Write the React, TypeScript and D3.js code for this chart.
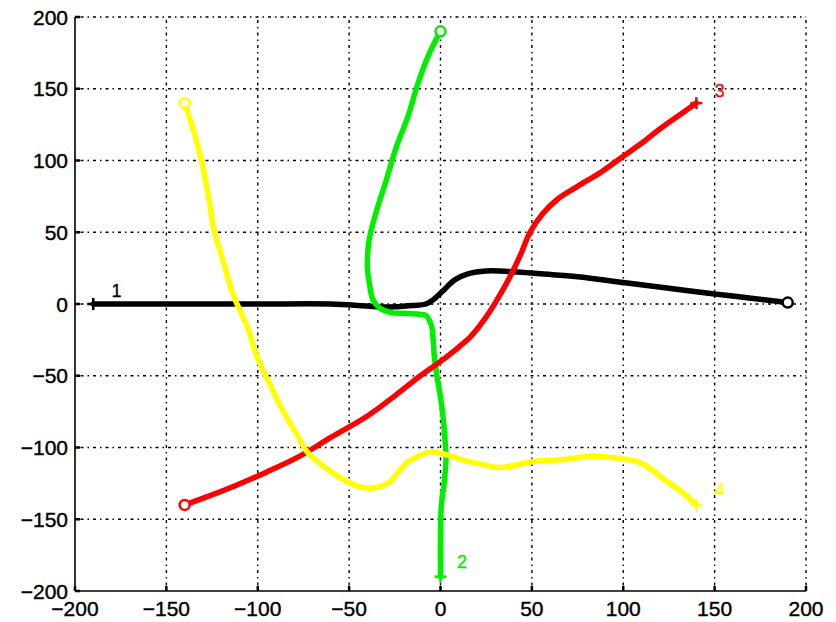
import React from 'react';
import {scaleLinear, line, curveCatmullRom} from 'd3';

// les quatre trajectoires
const path1: [number, number][] = [
  [-190, 0], [-150, 0], [-100, 0], [-60, 0], [-45, -1], [-35, -2], [-25, -2], [-15, -1],
  [-8, 0], [-3, 4], [2, 10], [8, 17], [15, 21], [25, 23], [40, 22.5], [55, 21], [75, 19],
  [100, 15], [125, 11], [150, 7], [170, 4], [190, 1]
];
const path2: [number, number][] = [
  [0, -190], [0, -160], [0.5, -140], [2, -125], [3, -108], [2.5, -95], [1.5, -80], [0, -65],
  [-2, -50], [-3.5, -35], [-4, -25], [-5, -15], [-8, -8], [-13, -7], [-20, -6.5], [-27, -6],
  [-33, -3], [-37, 3], [-39, 15], [-40, 25], [-39, 45], [-35, 65], [-30, 85], [-24, 110],
  [-18, 130], [-12, 155], [-6, 175], [0, 190]
];
const path3: [number, number][] = [
  [-140, -140], [-125, -133], [-113, -127], [-95, -117], [-77, -106], [-60, -93], [-40, -78],
  [-25, -64], [-11, -50], [0, -40], [10, -30], [17, -22], [25, -9], [31, 3], [38, 19], [44, 35],
  [49, 50], [56, 63], [64, 73], [75, 82], [88, 92], [100, 103], [110, 112], [120, 122],
  [130, 131], [140, 140]
];
const path4: [number, number][] = [
  [-140, 140], [-135, 120], [-131, 101], [-127, 75], [-124, 52], [-119, 30], [-113, 5],
  [-106, -15], [-100, -38], [-93, -57], [-86, -75], [-79, -90], [-73, -103], [-67, -110],
  [-62, -115], [-55, -121], [-49, -125], [-42, -128], [-36, -128], [-29, -125], [-23, -117],
  [-18, -110], [-12, -106], [-5, -103], [0, -104], [6, -106], [13, -109], [20, -111],
  [33, -114], [42, -112], [49, -110], [60, -109], [70, -108], [82, -106], [93, -107],
  [100, -108], [108, -110], [114, -114], [122, -122], [132, -131], [140, -140]
];

const colors = ['#000000', '#00ee00', '#ff0000', '#ffff00'];
const labels = ['1', '2', '3', '4'];
const labelPos: [number, number][] = [[-180, 5], [9, -184], [150, 144], [150, -134]];

const ticks = [-200, -150, -100, -50, 0, 50, 100, 150, 200];

export default function App() {
  const left = 75, right = 806, top = 17, bottom = 591;
  const x = scaleLinear().domain([-200, 200]).range([left, right]);
  const y = scaleLinear().domain([-200, 200]).range([bottom, top]);

  const lineGen = line<[number, number]>()
    .x(d => x(d[0]))
    .y(d => y(d[1]))
    .curve(curveCatmullRom.alpha(0.5));

  const paths = [path1, path2, path3, path4];
  const dash = '1.5 4 3 4';
  const fmt = (v: number) => (v < 0 ? '\u2212' + Math.abs(v) : String(v));

  const plus = (px: number, py: number, c: string, k: string) => (
    <g key={k} stroke={c} strokeWidth={2.5}>
      <line x1={px - 6} x2={px + 6} y1={py} y2={py} />
      <line x1={px} x2={px} y1={py - 6} y2={py + 6} />
    </g>
  );

  return (
    <svg width={836} height={622} style={{position: 'absolute', left: 0, top: 0, background: '#fff'}}
      fontFamily="'Liberation Sans', Arial, sans-serif">
      {/* grille */}
      {ticks.filter(t => t > -200).map(t => (
        <g key={'g' + t} stroke="#000" strokeWidth={1.4} strokeDasharray={dash}>
          <line x1={x(t)} x2={x(t)} y1={bottom} y2={top} />
          <line x1={left} x2={right} y1={y(t)} y2={y(t)} />
        </g>
      ))}
      {/* axes */}
      <line x1={left} x2={left} y1={top} y2={bottom} stroke="#000" strokeWidth={1.6} />
      <line x1={left} x2={right} y1={bottom} y2={bottom} stroke="#000" strokeWidth={1.6} />
      {ticks.map(t => (
        <g key={'t' + t}>
          <line x1={left} x2={left + 5} y1={y(t)} y2={y(t)} stroke="#000" strokeWidth={2.5} />
          <line x1={x(t)} x2={x(t)} y1={bottom} y2={bottom - 5} stroke="#000" strokeWidth={2.5} />
          <text x={68} y={y(t)} dy="0.36em" textAnchor="end" fontSize={21} stroke="#000" strokeWidth={0.4}>{fmt(t)}</text>
          <text x={x(t)} y={616} textAnchor="middle" fontSize={21} stroke="#000" strokeWidth={0.4}>{fmt(t)}</text>
        </g>
      ))}
      {/* courbes */}
      {paths.map((p, i) => (
        <path key={'p' + i} d={lineGen(p) || ''} fill="none" stroke={colors[i]} strokeWidth={5.5}
          strokeLinejoin="round" strokeLinecap="round" />
      ))}
      {/* marqueurs: 1 et 2 commencent par +, 3 et 4 par o */}
      {paths.map((p, i) => {
        const s = p[0], e = p[p.length - 1];
        const plusPt = i < 2 ? s : e;
        const circPt = i < 2 ? e : s;
        return (
          <g key={'m' + i}>
            {plus(x(plusPt[0]), y(plusPt[1]), colors[i], 'pl' + i)}
            <circle cx={x(circPt[0])} cy={y(circPt[1])} r={5} fill="#fff" stroke={colors[i]} strokeWidth={2.5} />
          </g>
        );
      })}
      {labels.map((l, i) => (
        <text key={'l' + i} x={x(labelPos[i][0])} y={y(labelPos[i][1])} fill={colors[i]} fontSize={18}
          stroke={colors[i]} strokeWidth={0.3}>{l}</text>
      ))}
    </svg>
  );
}
